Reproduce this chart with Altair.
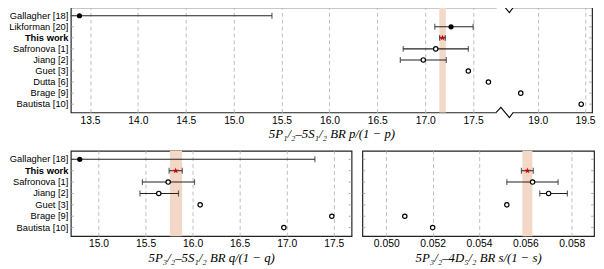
import altair as alt
import pandas as pd

# ---------------- data ----------------
# Panel A: 5P1/2-5S1/2 BR p/(1-p)
names_a = ["Gallagher [18]", "Likforman [20]", "This work", "Safronova [1]", "Jiang [2]",
           "Guet [3]", "Dutta [6]", "Brage [9]", "Bautista [10]"]
val_a = [13.39, 17.27, 17.18, 17.11, 16.98, 17.45, 17.66, 18.82, 19.46]
lo_a = [11.39, 17.10, 17.15, 16.77, 16.74, None, None, None, None]
hi_a = [15.40, 17.50, 17.21, 17.45, 17.22, None, None, None, None]
kind_a = ["filled", "filled", "this", "open", "open", "open", "open", "open", "open"]
band_a = [17.148, 17.215]
ticks_a = [13.5, 14, 14.5, 15, 15.5, 16, 16.5, 17, 17.5, 19.0, 19.5]
domain_a = [13.3, 17.83, 18.65, 19.575]   # broken axis: 13.3-17.83 | 18.65-19.575
break_a = [17.83]

# Panel B: 5P3/2-5S1/2 BR q/(1-q)
names_b = ["Gallagher [18]", "This work", "Safronova [1]", "Jiang [2]", "Guet [3]",
           "Brage [9]", "Bautista [10]"]
val_b = [14.80, 15.82, 15.74, 15.64, 16.08, 17.48, 16.97]
lo_b = [12.30, 15.75, 15.466, 15.44, None, None, None]
hi_b = [17.30, 15.89, 16.02, 15.85, None, None, None]
kind_b = ["filled", "this", "open", "open", "open", "open", "open"]
band_b = [15.758, 15.888]
ticks_b = [15, 15.5, 16, 16.5, 17, 17.5]
domain_b = [14.705, 17.69]

# Panel C: 5P3/2-4D5/2 BR s/(1-s)
names_c = names_b
val_c = [None, 0.05609, 0.05631, 0.05700, 0.05520, 0.05080, 0.05200]
lo_c = [None, 0.05583, 0.05520, 0.05662, None, None, None]
hi_c = [None, 0.05634, 0.05741, 0.05781, None, None, None]
kind_c = ["none", "this", "open", "open", "open", "open", "open"]
band_c = [0.05587, 0.05630]
ticks_c = [0.05, 0.052, 0.054, 0.056, 0.058]
domain_c = [0.04897, 0.05896]

STAR = ("M0,-1 L0.2245,-0.309 L0.951,-0.309 L0.363,0.118 L0.588,0.809 L0,0.382 "
        "L-0.588,0.809 L-0.363,0.118 L-0.951,-0.309 L-0.2245,-0.309 Z")
ZIG = "M -1 0 L -0.45 -0.6 L 0.55 0.6 L 1 0"
COVER = "M -0.95 0 L 0.95 0"

LABEL_FONT = "Liberation Sans"
TITLE_FONT = "Liberation Serif"
ERR = "#222222"


def panel(names, val, lo, hi, kind, band, ticks, scale, width, height, title,
          show_labels=True, breaks=None, label_expr=None):
    df = pd.DataFrame({"name": names, "val": val, "lo": lo, "hi": hi, "kind": kind})
    base = alt.Chart(df)
    yaxis = None
    if show_labels:
        yaxis = alt.Axis(title=None, ticks=False, domain=False, grid=False,
                         labelFont=LABEL_FONT, labelFontSize=9.5, labelColor="black",
                         labelPadding=3,
                         labelFontWeight={"condition": {"test": "datum.value == 'This work'",
                                                        "value": "bold"},
                                          "value": "normal"})
    y = alt.Y("name:N", sort=names, scale=alt.Scale(domain=names, padding=0.5), axis=yaxis)
    yref = alt.Y("name:N", sort=names)

    xaxis_kw = dict(values=ticks, grid=True, gridDash=[4, 3], gridColor="#b5b5b5",
                    gridWidth=0.9, ticks=False, domain=False, labelFont=LABEL_FONT,
                    labelFontSize=10.5, labelColor="black", labelPadding=3,
                    title=title, titleFont=TITLE_FONT, titleFontStyle="italic",
                    titleFontWeight="normal", titleFontSize=13, titleColor="black",
                    titlePadding=2)
    if label_expr:
        xaxis_kw["labelExpr"] = label_expr

    band_df = pd.DataFrame({"lo": [band[0]], "hi": [band[1]]})
    rect = alt.Chart(band_df).mark_rect(color="#f3d7c7").encode(
        x=alt.X("lo:Q", scale=scale, axis=alt.Axis(**xaxis_kw)),
        x2="hi:Q")

    lt = base.mark_rule(color="#9a9a9a", strokeWidth=0.8).encode(
        y=y, x=alt.value(0), x2=alt.value(3))
    rt = base.mark_rule(color="#9a9a9a", strokeWidth=0.8).encode(
        y=yref, x=alt.value(width - 3), x2=alt.value(width))

    err = base.transform_filter("isValid(datum.lo)").mark_rule(
        color=ERR, strokeWidth=1.1, clip=True).encode(x="lo:Q", x2="hi:Q", y=yref)
    caps = base.transform_filter("isValid(datum.lo)").transform_fold(
        ["lo", "hi"], as_=["end", "xv"]).mark_tick(
        color=ERR, thickness=1.2, size=6, clip=True, orient="vertical").encode(
        x="xv:Q", y=yref)

    opn = base.transform_filter("datum.kind == 'open'").mark_point(
        shape="circle", filled=True, fill="white", stroke="black", strokeWidth=1.2,
        size=20, opacity=1).encode(x="val:Q", y=yref)
    fil = base.transform_filter("datum.kind == 'filled'").mark_point(
        shape="circle", filled=True, color="black", size=28, opacity=1).encode(
        x="val:Q", y=yref)
    thiswork = base.transform_filter("datum.kind == 'this'").mark_point(
        shape=STAR, filled=True, color="#d00000", size=45, opacity=1).encode(
        x="val:Q", y=yref)

    layers = [rect, lt, rt, err, caps, opn, fil, thiswork]
    if breaks:
        bdf = pd.DataFrame({"bx": breaks})
        bchart = alt.Chart(bdf)
        for ypos in (0, height):
            layers.append(bchart.mark_point(shape=COVER, stroke="white", strokeWidth=3.5,
                                            size=300, opacity=1, filled=False).encode(
                x="bx:Q", y=alt.value(ypos)))
            layers.append(bchart.mark_point(shape=ZIG, stroke="black", strokeWidth=1.1,
                                            size=300, opacity=1, filled=False).encode(
                x="bx:Q", y=alt.value(ypos)))
    return alt.layer(*layers).properties(width=width, height=height)


scale_a = alt.Scale(domain=domain_a, range=[0, 442, 442, 531], nice=False, zero=False)
scale_b = alt.Scale(domain=domain_b, nice=False, zero=False)
scale_c = alt.Scale(domain=domain_c, nice=False, zero=False)

top = panel(names_a, val_a, lo_a, hi_a, kind_a, band_a, ticks_a, scale_a, 531, 107,
            "5P₁/₂–5S₁/₂ BR p/(1 − p)", breaks=break_a,
            label_expr="datum.value >= 19 ? format(datum.value, '.1f') : datum.label")
bl = panel(names_b, val_b, lo_b, hi_b, kind_b, band_b, ticks_b, scale_b, 286, 87,
           "5P₃/₂–5S₁/₂ BR q/(1 − q)")
br = panel(names_c, val_c, lo_c, hi_c, kind_c, band_c, ticks_c, scale_c, 236, 87,
           "5P₃/₂–4D₅/₂ BR s/(1 − s)", show_labels=False)

chart = alt.vconcat(
    top,
    alt.hconcat(bl, br, spacing=9),
    spacing=8,
).properties(
    padding={"left": 0, "top": -11, "right": 0, "bottom": 0}
).configure_view(
    stroke="#222222", strokeWidth=1.2
)

chart.save("out.html", embed_options={"renderer": "svg", "actions": False})
